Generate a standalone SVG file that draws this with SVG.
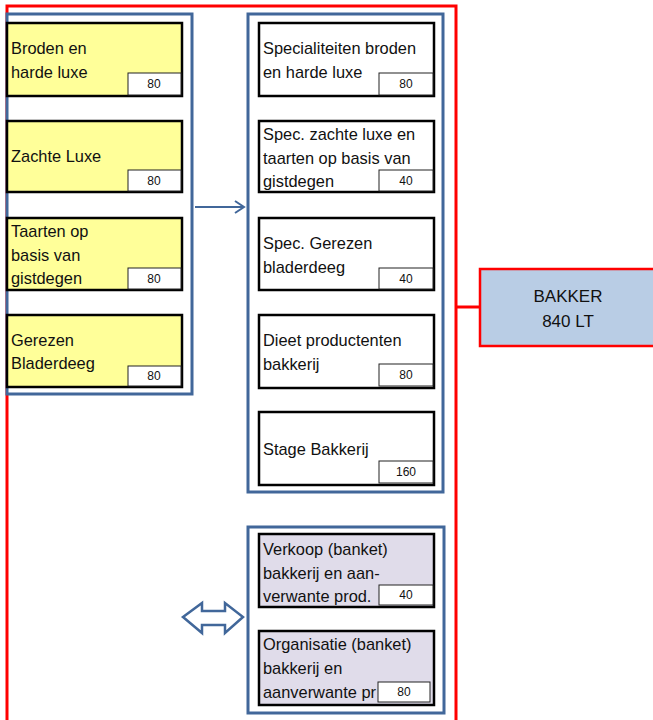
<svg xmlns="http://www.w3.org/2000/svg" width="653" height="720" viewBox="0 0 653 720">
<style>
text{font-family:"Liberation Sans",Arial,sans-serif;fill:#111}
.t{font-size:16.4px}
.n{font-size:12px;text-anchor:middle}
.grp{fill:#fff;stroke:#41679a;stroke-width:3}
.y{fill:#ffff99;stroke:#000;stroke-width:2.5}
.w{fill:#fff;stroke:#000;stroke-width:2.5}
.p{fill:#e0dcea;stroke:#000;stroke-width:2.5}
.nb{fill:#fff;stroke:#222;stroke-width:1}
.red{fill:none;stroke:#ff0000;stroke-width:3}
</style>
<rect width="653" height="720" fill="#fff"/>
<g id="frame">
<polyline class="red" points="7,720 7,6 456,6 456,720"/>
<line class="red" x1="456" y1="307" x2="480" y2="307"/>
</g>
<g id="bakker">
<rect x="480" y="269" width="176" height="77" fill="#b9cde5" stroke="#ff0000" stroke-width="2.5"/>
<text x="568" y="302" font-size="17" text-anchor="middle">BAKKER</text>
<text x="568" y="327" font-size="17" text-anchor="middle">840 LT</text>
</g>
<g id="groupLeft"><rect class="grp" x="7" y="14" width="185" height="380"/></g>
<g id="groupRight"><rect class="grp" x="248" y="14" width="195" height="478"/></g>
<g id="groupBottom"><rect class="grp" x="248" y="527" width="196" height="186"/></g>
<g id="connectors">
<line x1="195" y1="207" x2="243" y2="207" stroke="#41679a" stroke-width="2"/>
<polyline points="235,201 244,207 235,213" fill="none" stroke="#41679a" stroke-width="2"/>
<polygon points="183,617 202,603 202,611 225,611 225,603 243,617 225,633 225,625 202,625 202,633" fill="#fff" stroke="#41679a" stroke-width="2.5" stroke-linejoin="miter"/>
</g>
<g id="l1"><rect class="y" x="7" y="23" width="175" height="73"/><text class="t" x="11" y="54">Broden en</text><text class="t" x="11" y="78">harde luxe</text><rect class="nb" x="128" y="73" width="53" height="22"/><text class="n" x="154" y="88">80</text></g>
<g id="l2"><rect class="y" x="7" y="121" width="175" height="71"/><text class="t" x="11" y="162">Zachte Luxe</text><rect class="nb" x="128" y="170" width="53" height="21"/><text class="n" x="154" y="185">80</text></g>
<g id="l3"><rect class="y" x="7" y="218" width="175" height="72"/><text class="t" x="11" y="237">Taarten op</text><text class="t" x="11" y="261">basis van</text><text class="t" x="11" y="284">gistdegen</text><rect class="nb" x="128" y="268" width="53" height="21"/><text class="n" x="154" y="283">80</text></g>
<g id="l4"><rect class="y" x="7" y="315" width="175" height="72"/><text class="t" x="11" y="346">Gerezen</text><text class="t" x="11" y="369">Bladerdeeg</text><rect class="nb" x="128" y="366" width="53" height="20"/><text class="n" x="154" y="380">80</text></g>
<g id="r1"><rect class="w" x="259" y="23" width="175" height="73"/><text class="t" x="263" y="54">Specialiteiten broden</text><text class="t" x="263" y="78">en harde luxe</text><rect class="nb" x="379" y="73" width="54" height="22"/><text class="n" x="406" y="88">80</text></g>
<g id="r2"><rect class="w" x="259" y="121" width="175" height="71"/><text class="t" x="263" y="140">Spec. zachte luxe en</text><text class="t" x="263" y="164">taarten op basis van</text><text class="t" x="263" y="187">gistdegen</text><rect class="nb" x="379" y="170" width="54" height="21"/><text class="n" x="406" y="185">40</text></g>
<g id="r3"><rect class="w" x="259" y="218" width="175" height="72"/><text class="t" x="263" y="249">Spec. Gerezen</text><text class="t" x="263" y="273">bladerdeeg</text><rect class="nb" x="379" y="268" width="54" height="21"/><text class="n" x="406" y="283">40</text></g>
<g id="r4"><rect class="w" x="259" y="315" width="175" height="73"/><text class="t" x="263" y="346">Dieet productenten</text><text class="t" x="263" y="370">bakkerij</text><rect class="nb" x="379" y="364" width="54" height="22"/><text class="n" x="406" y="379">80</text></g>
<g id="r5"><rect class="w" x="259" y="412" width="175" height="73"/><text class="t" x="263" y="455">Stage Bakkerij</text><rect class="nb" x="379" y="461" width="54" height="22"/><text class="n" x="406" y="476">160</text></g>
<g id="b1"><rect class="p" x="259" y="534" width="175" height="73"/><text class="t" x="263" y="555">Verkoop (banket)</text><text class="t" x="263" y="579">bakkerij en aan-</text><text class="t" x="263" y="602">verwante prod.</text><rect class="nb" x="379" y="585" width="54" height="20"/><text class="n" x="406" y="599">40</text></g>
<g id="b2"><rect class="p" x="259" y="631" width="175" height="74"/><text class="t" x="263" y="650">Organisatie (banket)</text><text class="t" x="263" y="674">bakkerij en</text><text class="t" x="263" y="698">aanverwante pr</text><rect class="nb" x="378" y="682" width="52" height="20"/><text class="n" x="404" y="696">80</text></g>
</svg>
